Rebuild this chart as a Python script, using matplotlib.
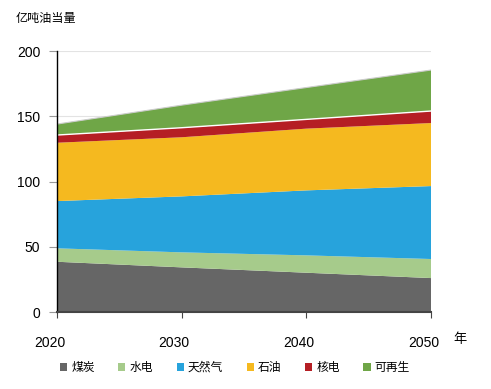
import matplotlib
matplotlib.use('Agg')
import matplotlib.pyplot as plt
import matplotlib.transforms as mtransforms
from matplotlib.patches import Patch

plt.rcParams['font.family'] = ['Liberation Sans', 'Noto Sans CJK SC', 'DejaVu Sans']

# data (亿吨油当量)
years = [2020, 2030, 2040, 2050]
coal = [38.5, 34.2, 30.1, 26.0]
hydro = [10.3, 11.5, 13.3, 14.6]
gas = [36.2, 42.9, 49.8, 55.9]
oil = [44.7, 45.3, 47.3, 48.3]
nuclear = [5.9, 7.3, 7.1, 9.2]
renew = [8.4, 17.3, 24.4, 31.4]

names = ['煤炭', '水电', '天然气', '石油', '核电', '可再生']
colors = ['#666666', '#a6cb8b', '#27a3dc', '#f5b91f', '#b51e24', '#6fa647']

fig = plt.figure(figsize=(4.91, 3.89), dpi=100)
ax = fig.add_axes([57 / 491, 77 / 389, 374 / 491, 261 / 389])

series = [coal, hydro, gas, oil, nuclear, renew]
ax.stackplot(years, *series, colors=colors, linewidth=0)

# thin edge lines on top of the two upper layers
tops = [sum(v) for v in zip(coal, hydro, gas, oil, nuclear)]
ax.plot(years, tops, color='white', lw=1.0)
tops2 = [sum(v) for v in zip(coal, hydro, gas, oil, nuclear, renew)]
ax.plot(years, tops2, color='#cccccc', lw=0.8)

ax.set_xlim(2020, 2050)
ax.set_ylim(0, 200)
ax.set_yticks([0, 50, 100, 150, 200])
ax.set_xticks([2020, 2030, 2040, 2050])
ax.yaxis.grid(True, color='#e3e3e3', lw=0.8)
ax.set_axisbelow(True)

for s in ['top', 'right']:
    ax.spines[s].set_visible(False)
ax.spines['left'].set_color('black')
ax.spines['left'].set_linewidth(1.0)
ax.spines['bottom'].set_color('#444444')
ax.spines['bottom'].set_linewidth(1.5)

ax.tick_params(axis='y', length=5.5, color='#999999', labelsize=10, pad=6.5)
ax.tick_params(axis='x', length=4, color='#444444', labelsize=10, pad=13)

# x tick labels sit a bit left of their ticks in the reference
shift = mtransforms.ScaledTranslation(-7.5 / 100, 0, fig.dpi_scale_trans)
for lab in ax.get_xticklabels():
    lab.set_transform(lab.get_transform() + shift)

fig.text(16 / 491, 1 - 18.7 / 389, '亿吨油当量', fontsize=8.7, va='center', ha='left')
fig.text(460 / 491, 1 - 340 / 389, '年', fontsize=9.5, va='center', ha='center')

handles = [Patch(facecolor=c, edgecolor='none') for c in colors]
fig.legend(handles, names, loc='center', bbox_to_anchor=(235 / 491, 1 - 368 / 389),
           ncol=6, frameon=False, fontsize=8.5, handlelength=0.6, handleheight=0.6,
           handletextpad=0.35, columnspacing=2.0, borderpad=0, borderaxespad=0)

fig.savefig('out.png', dpi=100)
